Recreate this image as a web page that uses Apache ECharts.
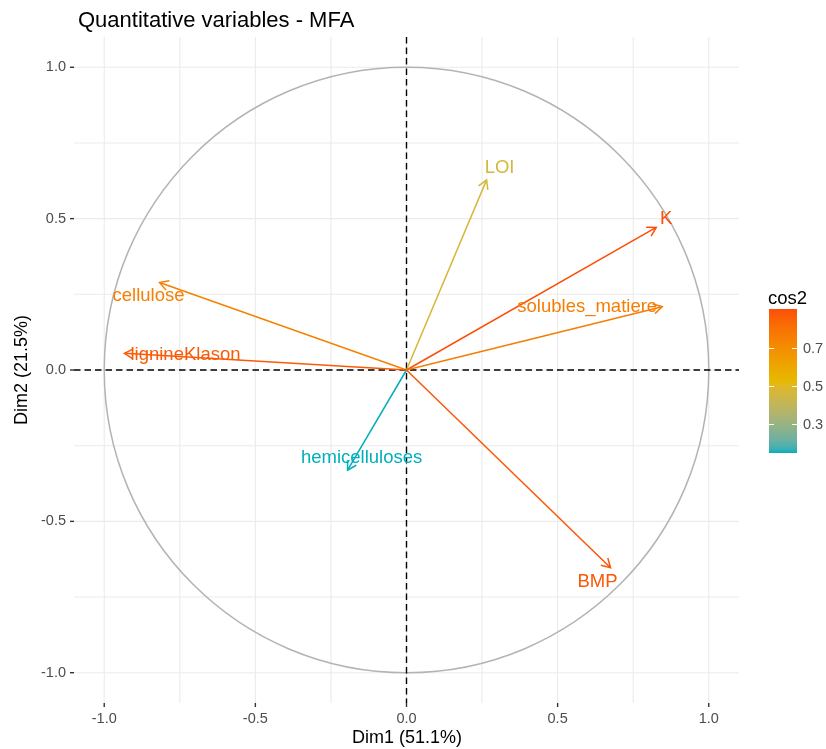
<!DOCTYPE html>
<html>
<head>
<meta charset="utf-8">
<script src="https://cdn.jsdelivr.net/npm/echarts@6/dist/echarts.min.js"></script>
<style>
  html, body { margin: 0; padding: 0; background: #ffffff; }
  #chart { width: 826px; height: 749px; }
</style>
</head>
<body>
<div id="chart"></div>
<script>
// Variable correlation circle (MFA, quantitative variables)
const variables = ['LOI', 'K', 'solubles_matiere', 'cellulose', 'lignineKlason', 'hemicelluloses', 'BMP'];
const dim1 = [0.265, 0.826, 0.846, -0.817, -0.933, -0.195, 0.675];
const dim2 = [0.628, 0.471, 0.209, 0.289, 0.055, -0.331, -0.653];
const cos2 = [0.465, 0.904, 0.760, 0.750, 0.873, 0.148, 0.882];

const axisTicks = [-1, -0.5, 0, 0.5, 1];
const gridValues = [-1, -0.75, -0.5, -0.25, 0, 0.25, 0.5, 0.75, 1];
const legendTicks = [0.3, 0.5, 0.7];

const FONT = '"Liberation Sans", Arial, Helvetica, sans-serif';
const paletteHex = ['#00AFBB', '#E7B800', '#FC4E07'];
const cosMin = Math.min(...cos2);
const cosMax = Math.max(...cos2);

// --- colour ramp interpolated in CIELAB ---
function hexToRgb(h) {
  return [1, 3, 5].map(i => parseInt(h.slice(i, i + 2), 16));
}
function srgbToLin(c) { c /= 255; return c <= 0.04045 ? c / 12.92 : Math.pow((c + 0.055) / 1.055, 2.4); }
function linToSrgb(c) {
  const v = c <= 0.0031308 ? 12.92 * c : 1.055 * Math.pow(c, 1 / 2.4) - 0.055;
  return Math.max(0, Math.min(255, Math.round(v * 255)));
}
const WN = [0.95047, 1.0, 1.08883];
function rgbToLab(rgb) {
  const [r, g, b] = rgb.map(srgbToLin);
  const X = (0.4124 * r + 0.3576 * g + 0.1805 * b) / WN[0];
  const Y = (0.2126 * r + 0.7152 * g + 0.0722 * b) / WN[1];
  const Z = (0.0193 * r + 0.1192 * g + 0.9505 * b) / WN[2];
  const f = t => t > 0.008856 ? Math.cbrt(t) : 7.787 * t + 16 / 116;
  const fx = f(X), fy = f(Y), fz = f(Z);
  return [116 * fy - 16, 500 * (fx - fy), 200 * (fy - fz)];
}
function labToRgb(lab) {
  const fy = (lab[0] + 16) / 116, fx = fy + lab[1] / 500, fz = fy - lab[2] / 200;
  const fi = t => t > 0.206893 ? t * t * t : (t - 16 / 116) / 7.787;
  const X = fi(fx) * WN[0], Y = fi(fy) * WN[1], Z = fi(fz) * WN[2];
  const r = 3.2406 * X - 1.5372 * Y - 0.4986 * Z;
  const g = -0.9689 * X + 1.8758 * Y + 0.0415 * Z;
  const b = 0.0557 * X - 0.2040 * Y + 1.0570 * Z;
  return [linToSrgb(r), linToSrgb(g), linToSrgb(b)];
}
const paletteLab = paletteHex.map(h => rgbToLab(hexToRgb(h)));
function rampColor(t) {
  t = Math.max(0, Math.min(1, t));
  const seg = t * (paletteLab.length - 1);
  const k = Math.min(Math.floor(seg), paletteLab.length - 2);
  const f = seg - k;
  const a = paletteLab[k], b = paletteLab[k + 1];
  const rgb = labToRgb([0, 1, 2].map(j => a[j] + (b[j] - a[j]) * f));
  return 'rgb(' + rgb.join(',') + ')';
}
function colorFor(v) {
  return rampColor((v - cosMin) / (cosMax - cosMin));
}

// label placement relative to arrow tip, in pixels
const labelOffset = {
  LOI: [13, -12],
  K: [10, -9],
  solubles_matiere: [-75, 0],
  cellulose: [-11, 13],
  lignineKlason: [61, 2],
  hemicelluloses: [14, -12],
  BMP: [-13, 14]
};

const arrowData = variables.map((name, i) => [dim1[i], dim2[i], cos2[i], i]);

const chart = echarts.init(document.getElementById('chart'), null, { renderer: 'canvas' });

// colour bar geometry
const bar = { x: 769, y: 309, w: 28, h: 144 };
const barY = v => bar.y + bar.h - (v - cosMin) / (cosMax - cosMin) * bar.h;

const barStops = [];
for (let s = 0; s <= 40; s++) {
  barStops.push({ offset: s / 40, color: rampColor(1 - s / 40) });
}

const legendGraphics = [
  {
    type: 'text', left: 768, top: 289,
    style: { text: 'cos2', font: '18.5px ' + FONT, fill: '#000000' }
  },
  {
    type: 'rect', shape: { x: bar.x, y: bar.y, width: bar.w, height: bar.h },
    style: { fill: new echarts.graphic.LinearGradient(0, 0, 0, 1, barStops) }
  }
];
legendTicks.forEach(v => {
  const y = Math.round(barY(v)) + 0.5;
  legendGraphics.push(
    { type: 'line', shape: { x1: bar.x, y1: y, x2: bar.x + 5, y2: y }, style: { stroke: '#ffffff', lineWidth: 1 } },
    { type: 'line', shape: { x1: bar.x + bar.w - 5, y1: y, x2: bar.x + bar.w, y2: y }, style: { stroke: '#ffffff', lineWidth: 1 } },
    {
      type: 'text', x: 803, y: y,
      style: { text: v.toFixed(1), font: '14.5px ' + FONT, fill: '#4D4D4D', verticalAlign: 'middle', align: 'left' }
    }
  );
});

const option = {
  animation: false,
  backgroundColor: '#ffffff',
  title: {
    text: 'Quantitative variables - MFA',
    left: 73, top: 5,
    textStyle: { fontFamily: FONT, fontSize: 22, fontWeight: 'normal', color: '#000000' }
  },
  grid: { left: 74, top: 37, width: 665, height: 666 },
  xAxis: {
    type: 'value', min: -1.1, max: 1.1,
    axisLine: { show: false },
    axisTick: { show: false },
    axisLabel: {
      customValues: axisTicks, formatter: v => v.toFixed(1),
      color: '#4D4D4D', fontSize: 14.5, fontFamily: FONT, margin: 8
    },
    splitLine: { show: false }
  },
  yAxis: {
    type: 'value', min: -1.1, max: 1.1,
    axisLine: { show: false },
    axisTick: { show: false },
    axisLabel: {
      customValues: axisTicks, formatter: v => v.toFixed(1),
      color: '#4D4D4D', fontSize: 14.5, fontFamily: FONT, margin: 8
    },
    splitLine: { show: false }
  },
  graphic: [
    {
      type: 'text', x: 407, y: 738,
      style: { text: 'Dim1 (51.1%)', font: '18px ' + FONT, fill: '#000000', align: 'center', verticalAlign: 'middle' }
    },
    {
      type: 'text', x: 22, y: 370, rotation: Math.PI / 2,
      style: { text: 'Dim2 (21.5%)', font: '18px ' + FONT, fill: '#000000', align: 'center', verticalAlign: 'middle' }
    }
  ].concat(legendGraphics),
  series: [
    {
      // panel grid lines
      type: 'custom', coordinateSystem: 'cartesian2d', silent: true, z: 1,
      data: gridValues.map(v => [v, v]),
      renderItem(params, api) {
        const cs = params.coordSys;
        const px = api.coord([api.value(0), 0])[0];
        const py = api.coord([0, api.value(1)])[1];
        const st = { stroke: '#EBEBEB', lineWidth: 1.1 };
        return {
          type: 'group', children: [
            { type: 'line', shape: { x1: px, y1: cs.y, x2: px, y2: cs.y + cs.height }, style: st },
            { type: 'line', shape: { x1: cs.x, y1: py, x2: cs.x + cs.width, y2: py }, style: st }
          ]
        };
      }
    },
    {
      // axis tick marks outside the panel
      type: 'custom', coordinateSystem: 'cartesian2d', silent: true, z: 1,
      data: axisTicks.map(v => [v, v]),
      renderItem(params, api) {
        const cs = params.coordSys;
        const px = api.coord([api.value(0), 0])[0];
        const py = api.coord([0, api.value(1)])[1];
        const st = { stroke: '#333333', lineWidth: 1.4 };
        const bottom = cs.y + cs.height;
        return {
          type: 'group', children: [
            { type: 'line', shape: { x1: px, y1: bottom, x2: px, y2: bottom + 4 }, style: st },
            { type: 'line', shape: { x1: cs.x - 4, y1: py, x2: cs.x, y2: py }, style: st }
          ]
        };
      }
    },
    {
      // unit correlation circle
      type: 'custom', coordinateSystem: 'cartesian2d', silent: true, z: 2,
      data: [[0, 0]],
      renderItem(params, api) {
        const c = api.coord([0, 0]);
        const s = api.size([1, 1]);
        return {
          type: 'ellipse',
          shape: { cx: c[0], cy: c[1], rx: s[0], ry: s[1] },
          style: { fill: null, stroke: '#B3B3B3', lineWidth: 1.5 }
        };
      }
    },
    {
      // dashed reference axes through the origin
      type: 'custom', coordinateSystem: 'cartesian2d', silent: true, z: 3,
      data: [[0, 0]],
      renderItem(params, api) {
        const cs = params.coordSys;
        const c = api.coord([0, 0]);
        const st = { stroke: '#000000', lineWidth: 1.4, lineDash: [6.5, 4] };
        return {
          type: 'group', children: [
            { type: 'line', shape: { x1: c[0], y1: cs.y, x2: c[0], y2: cs.y + cs.height }, style: st },
            { type: 'line', shape: { x1: cs.x, y1: c[1], x2: cs.x + cs.width, y2: c[1] }, style: st }
          ]
        };
      }
    },
    {
      // variable arrows
      type: 'custom', coordinateSystem: 'cartesian2d', silent: true, z: 4,
      data: arrowData,
      renderItem(params, api) {
        const o = api.coord([0, 0]);
        const p = api.coord([api.value(0), api.value(1)]);
        const ang = Math.atan2(p[1] - o[1], p[0] - o[0]);
        const L = 10, A = Math.PI / 6;
        const w1 = [p[0] - L * Math.cos(ang - A), p[1] - L * Math.sin(ang - A)];
        const w2 = [p[0] - L * Math.cos(ang + A), p[1] - L * Math.sin(ang + A)];
        const col = colorFor(api.value(2));
        return {
          type: 'group', children: [
            { type: 'line', shape: { x1: o[0], y1: o[1], x2: p[0], y2: p[1] }, style: { stroke: col, lineWidth: 1.5 } },
            { type: 'polyline', shape: { points: [w1, p, w2] }, style: { stroke: col, lineWidth: 1.5, fill: null } }
          ]
        };
      }
    },
    {
      // variable names
      type: 'custom', coordinateSystem: 'cartesian2d', silent: true, z: 5,
      data: arrowData,
      renderItem(params, api) {
        const i = api.value(3);
        const name = variables[i];
        const p = api.coord([api.value(0), api.value(1)]);
        const off = labelOffset[name] || [0, 0];
        return {
          type: 'text', x: p[0] + off[0], y: p[1] + off[1],
          style: {
            text: name, font: '18.5px ' + FONT, fill: colorFor(api.value(2)),
            align: 'center', verticalAlign: 'middle'
          }
        };
      }
    }
  ]
};

chart.setOption(option);
</script>
</body>
</html>
